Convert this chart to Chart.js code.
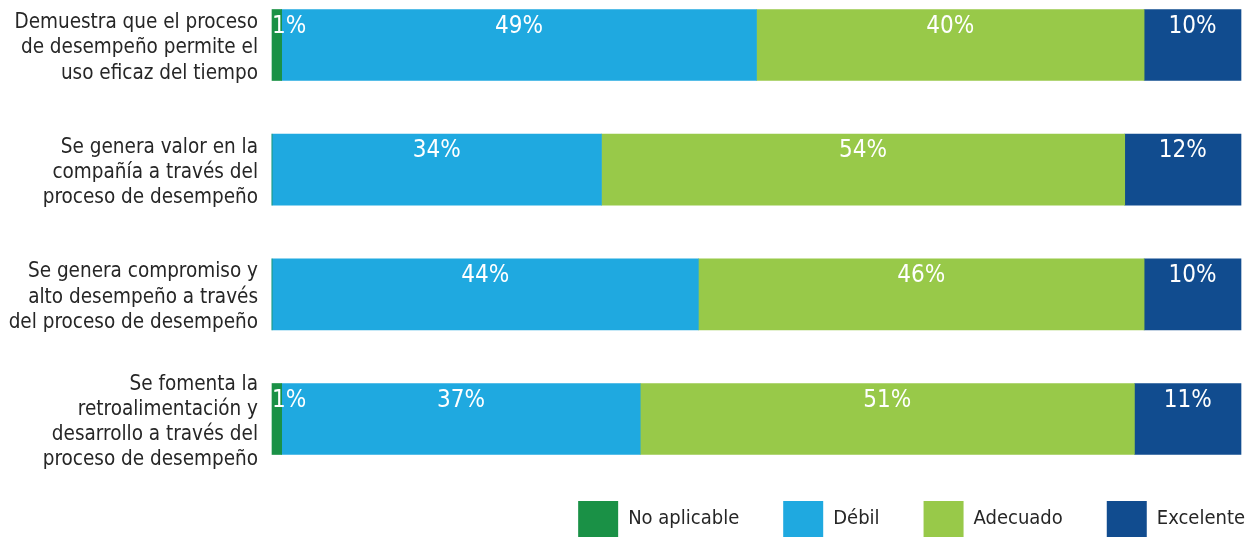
<!DOCTYPE html>
<html>
<head>
<meta charset="utf-8">
<script src="https://cdn.jsdelivr.net/npm/chart.js@4"></script>
<style>
  html, body { margin: 0; padding: 0; background: #fff; }
  #wrap { width: 1258px; height: 538px; }
</style>
</head>
<body>
<div id="wrap"><canvas id="myChart"></canvas></div>
<script>
const categories = [
  ["Demuestra que el proceso", "de desempeño permite el", "uso eficaz del tiempo"],
  ["Se genera valor en la", "compañía a través del", "proceso de desempeño"],
  ["Se genera compromiso y", "alto desempeño a través", "del proceso de desempeño"],
  ["Se fomenta la", "retroalimentación y", "desarrollo a través del", "proceso de desempeño"]
];
const seriesNames = ["No aplicable", "Débil", "Adecuado", "Excelente"];
const noAplicable = [1, 0, 0, 1];
const debil = [49, 34, 44, 37];
const adecuado = [40, 54, 46, 51];
const excelente = [10, 12, 10, 11];
const colors = ["#1a9146", "#1fa9e0", "#98c949", "#114c8f"];

const FONT = "'DejaVu Sans Condensed', 'DejaVu Sans', sans-serif";

// white percentage labels near the top of each segment
const valueLabels = {
  id: "valueLabels",
  afterDatasetsDraw(chart) {
    const ctx = chart.ctx;
    ctx.save();
    ctx.fillStyle = "#ffffff";
    ctx.font = "24px " + FONT;
    ctx.textBaseline = "middle";
    chart.data.datasets.forEach((ds, i) => {
      chart.getDatasetMeta(i).data.forEach((el, j) => {
        const v = ds.data[j];
        if (!v) return;
        const left = Math.min(el.x, el.base);
        const w = Math.abs(el.x - el.base);
        const y = el.y - el.height / 2 + 17;
        if (w < 30) {
          ctx.textAlign = "left";
          ctx.fillText(v + "%", left, y);
        } else {
          ctx.textAlign = "center";
          ctx.fillText(v + "%", left + w / 2, y);
        }
      });
    });
    ctx.restore();
  }
};

// move the legend to the bottom right corner
const legendShift = {
  id: "legendShift",
  afterLayout(chart) {
    const lg = chart.legend;
    lg.left += 48; lg.right += 48;
    lg.top += 9; lg.bottom += 9;
  }
};

const ds = [noAplicable, debil, adecuado, excelente].map((d, i) => ({
  label: seriesNames[i],
  data: d,
  backgroundColor: colors[i],
  borderWidth: 0,
  barThickness: 71,
  clip: false
}));

new Chart(document.getElementById("myChart"), {
  type: "bar",
  data: { labels: categories, datasets: ds },
  plugins: [valueLabels, legendShift],
  options: {
    indexAxis: "y",
    responsive: true,
    maintainAspectRatio: false,
    animation: false,
    layout: { padding: { top: 45, right: 17, left: 0, bottom: 0 } },
    scales: {
      x: {
        stacked: true,
        min: 0,
        max: 100,
        grid: { display: false, drawTicks: false },
        border: { display: false },
        ticks: { display: false },
        afterFit(s) { s.height = 29; }
      },
      y: {
        stacked: true,
        offset: false,
        grid: { display: false, drawTicks: false },
        border: { display: false },
        ticks: {
          color: "#262626",
          padding: 14,
          labelOffset: 3,
          font: { family: FONT, size: 20.5, lineHeight: 1.23 }
        },
        afterFit(s) {
          s.width = 272;
          s.paddingTop = 0;
          s.paddingBottom = 0;
        }
      }
    },
    plugins: {
      tooltip: { enabled: false },
      legend: {
        position: "bottom",
        align: "end",
        labels: {
          boxWidth: 40,
          boxHeight: 36,
          padding: 44,
          color: "#262626",
          font: { family: FONT, size: 20 }
        }
      }
    }
  }
});
</script>
</body>
</html>
